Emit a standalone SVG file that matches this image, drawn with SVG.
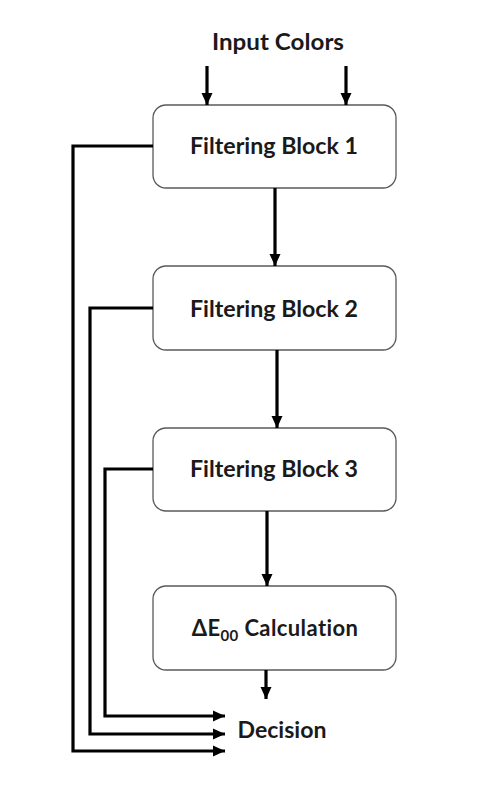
<svg xmlns="http://www.w3.org/2000/svg" width="500" height="785" viewBox="0 0 500 785">
<style>
.box{fill:#fff;stroke:#595959;stroke-width:1.3}
.lbl{font-family:Lato,"Liberation Sans",sans-serif;font-weight:bold;font-size:22px;fill:#1a1a1a;text-anchor:middle}
.con{fill:none;stroke:#000;stroke-width:3.2;stroke-linejoin:miter}
</style>
<defs>
<marker id="ah" markerUnits="userSpaceOnUse" markerWidth="13" markerHeight="12" refX="12" refY="6" orient="auto">
<path d="M0,0.5 L12,6 L0,11.5 Z" fill="#000"/>
</marker>
</defs>
<rect width="500" height="785" fill="#fff"/>
<g id="input-label"><text class="lbl" x="278" y="50" textLength="132" lengthAdjust="spacingAndGlyphs">Input Colors</text></g>
<g id="block1"><rect class="box" x="153" y="105" width="243" height="83" rx="13"/><text class="lbl" x="274" y="154" textLength="168" lengthAdjust="spacingAndGlyphs">Filtering Block 1</text></g>
<g id="block2"><rect class="box" x="153" y="266" width="243" height="84" rx="13"/><text class="lbl" x="274" y="317" textLength="168" lengthAdjust="spacingAndGlyphs">Filtering Block 2</text></g>
<g id="block3"><rect class="box" x="153" y="428" width="243" height="83" rx="13"/><text class="lbl" x="274" y="477" textLength="168" lengthAdjust="spacingAndGlyphs">Filtering Block 3</text></g>
<g id="calc"><rect class="box" x="153" y="586" width="243" height="84" rx="13"/><text class="lbl" x="275" y="636" letter-spacing="0.4">ΔE<tspan font-size="15" dy="5">00</tspan><tspan dy="-5"> Calculation</tspan></text></g>
<g id="decision"><text class="lbl" x="282" y="738" textLength="89" lengthAdjust="spacingAndGlyphs">Decision</text></g>
<g id="connectors">
<path class="con" d="M207,66 V105" marker-end="url(#ah)"/>
<path class="con" d="M346,66 V105" marker-end="url(#ah)"/>
<path class="con" d="M275,188 V266" marker-end="url(#ah)"/>
<path class="con" d="M277,350 V428" marker-end="url(#ah)"/>
<path class="con" d="M267,511 V586" marker-end="url(#ah)"/>
<path class="con" d="M266,670 V699" marker-end="url(#ah)"/>
<path class="con" d="M153,146 H73 V751 H225" marker-end="url(#ah)"/>
<path class="con" d="M153,308 H90 V734 H225" marker-end="url(#ah)"/>
<path class="con" d="M153,469 H105 V716 H225" marker-end="url(#ah)"/>
</g>
</svg>
